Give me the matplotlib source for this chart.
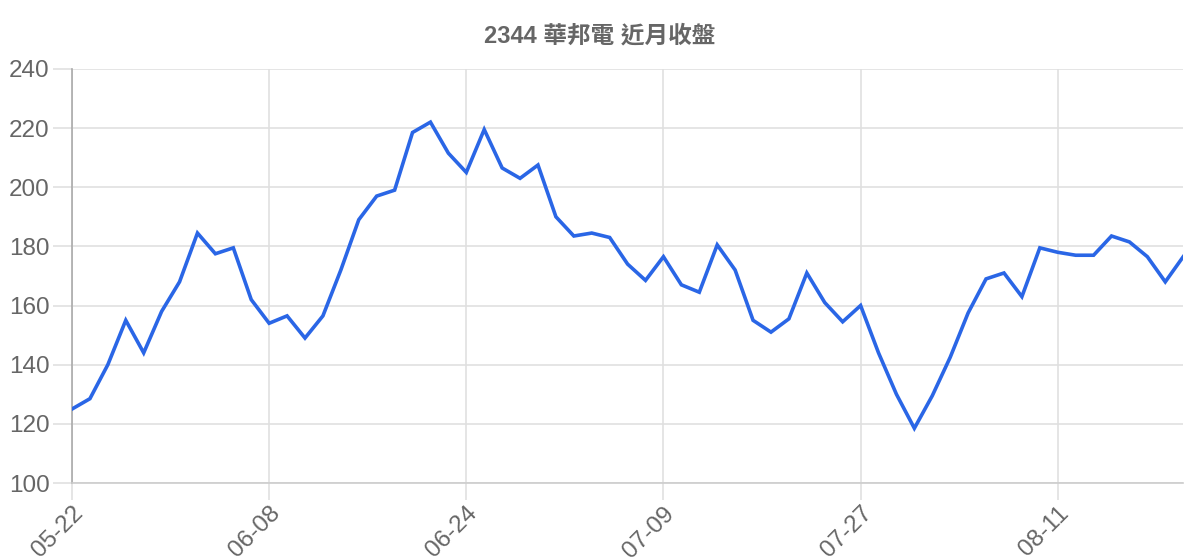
import matplotlib
matplotlib.use("Agg")
import matplotlib.pyplot as plt

# closing prices, one per trading day
prices = [125, 128.5, 140, 155, 144, 158, 168, 184.5, 177.5, 179.5,
          162, 154, 156.5, 149, 156.5, 172, 189, 197, 199, 218.5,
          222, 211.5, 205, 219.5, 206.5, 203, 207.5, 190, 183.5, 184.5,
          183, 174, 168.5, 176.5, 167, 164.5, 180.5, 172, 155, 151,
          155.5, 171, 161, 154.5, 160, 144, 130, 118.5, 129.5, 142.5,
          157.5, 169, 171, 163, 179.5, 178, 177, 177, 183.5, 181.5,
          176.5, 168, 176.5]
tick_pos = [0, 11, 22, 33, 44, 55]
tick_labels = ["05-22", "06-08", "06-24", "07-09", "07-27", "08-11"]
y_ticks = [100, 120, 140, 160, 180, 200, 220, 240]
title = "2344 華邦電 近月收盤"

plt.rcParams['font.family'] = ['Liberation Sans', 'Noto Sans CJK TC', 'DejaVu Sans']

fig = plt.figure(figsize=(12, 5.6), dpi=100)
ax = fig.add_axes([0.06, 0.1375, 0.926, 0.7395])

ax.plot(range(len(prices)), prices, color='#2a66e6', lw=2.6, solid_joinstyle='miter', zorder=3)

ax.set_xlim(0, len(prices) - 1)
ax.set_ylim(100, 240)
ax.set_yticks(y_ticks)
ax.set_xticks(tick_pos)
ax.set_xticklabels(tick_labels, rotation=45, ha='right', rotation_mode='anchor')

ax.grid(True, color='#e0e0e0', lw=1.2)
ax.set_axisbelow(True)
for s in ['top', 'right']:
    ax.spines[s].set_visible(False)
ax.spines['left'].set_color('#aaaaaa')
ax.spines['bottom'].set_color('#cccccc')
ax.spines['left'].set_linewidth(1.2)
ax.spines['bottom'].set_linewidth(1.2)

ax.tick_params(axis='y', length=14, color='#e0e0e0', width=1.2, pad=2, labelsize=17.5, labelcolor='#666666')
ax.tick_params(axis='x', length=12, color='#e0e0e0', width=1.2, pad=2, labelsize=17.5, labelcolor='#666666')

fig.text(0.5, 1 - 36 / 560, title, ha='center', va='center', fontsize=17, fontweight='bold',
         color='#666666')

fig.savefig("out.png", dpi=100)
